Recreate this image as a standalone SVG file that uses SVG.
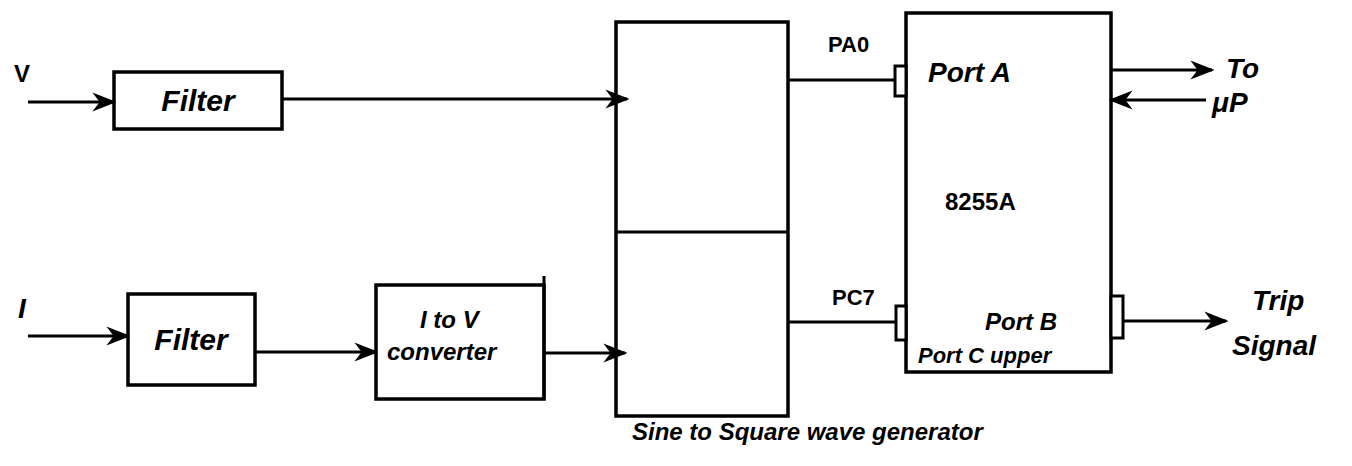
<svg xmlns="http://www.w3.org/2000/svg" width="1352" height="466" viewBox="0 0 1352 466">
<defs>
<style>
.box{fill:#fff;stroke:#000;stroke-width:3.5}
.ln{fill:none;stroke:#000;stroke-width:3}
.t{font-family:"Liberation Sans",Arial,sans-serif;font-weight:bold;fill:#000}
</style>
<marker id="ah" viewBox="0 0 10 10" refX="9" refY="5" markerWidth="8" markerHeight="8" orient="auto-start-reverse" markerUnits="strokeWidth">
<path d="M0,1 L10,5 L0,9 L3,5 Z" fill="#000"/>
</marker>
</defs>
<rect width="1352" height="466" fill="#fff"/>
<g id="filter1">
<rect class="box" x="114" y="72" width="168" height="57"/>
<text class="t" x="198" y="111" font-size="30" text-anchor="middle" font-style="italic">Filter</text>
</g>
<g id="filter2">
<rect class="box" x="128" y="294" width="127" height="91"/>
<text class="t" x="191" y="350" font-size="30" text-anchor="middle" font-style="italic">Filter</text>
</g>
<g id="itov">
<rect class="box" x="376" y="285" width="168" height="114"/>
<line class="ln" x1="544" y1="276" x2="544" y2="399"/>
<text class="t" x="420" y="328" font-size="24" font-style="italic">I to V</text>
<text class="t" x="387" y="360" font-size="24" font-style="italic">converter</text>
</g>
<g id="sinesquare">
<rect class="box" x="616" y="22" width="172" height="394"/>
<line class="ln" x1="616" y1="232" x2="788" y2="232"/>
<text class="t" x="632" y="440" font-size="24" font-style="italic">Sine to Square  wave  generator</text>
</g>
<g id="ppi8255">
<rect class="box" x="906" y="13" width="205" height="359"/>
<rect class="box" x="895" y="66" width="11" height="30" style="stroke-width:3"/>
<rect class="box" x="896" y="306" width="10" height="34" style="stroke-width:3"/>
<rect class="box" x="1111" y="296" width="12" height="42" style="stroke-width:3"/>
<text class="t" x="928" y="82" font-size="28" font-style="italic">Port A</text>
<text class="t" x="945" y="210" font-size="24">8255A</text>
<text class="t" x="985" y="330" font-size="24" font-style="italic">Port B</text>
<text class="t" x="918" y="363" font-size="22" font-style="italic">Port C upper</text>
</g>
<g id="labels">
<text class="t" x="14" y="82" font-size="24">V</text>
<text class="t" x="18" y="318" font-size="28" font-style="italic">I</text>
<text class="t" x="828" y="52" font-size="22">PA0</text>
<text class="t" x="832" y="305" font-size="22">PC7</text>
<text class="t" x="1226" y="78" font-size="28" font-style="italic">To</text>
<text class="t" x="1212" y="112" font-size="28" font-style="italic">μP</text>
<text class="t" x="1252" y="310" font-size="28" font-style="italic">Trip</text>
<text class="t" x="1232" y="355" font-size="28" font-style="italic">Signal</text>
</g>
<g id="connectors">
<line class="ln" x1="28" y1="102" x2="114" y2="102" marker-end="url(#ah)"/>
<line class="ln" x1="282" y1="99" x2="627" y2="99" marker-end="url(#ah)"/>
<line class="ln" x1="28" y1="336" x2="128" y2="336" marker-end="url(#ah)"/>
<line class="ln" x1="255" y1="352" x2="376" y2="352" marker-end="url(#ah)"/>
<line class="ln" x1="544" y1="353" x2="625" y2="353" marker-end="url(#ah)"/>
<line class="ln" x1="788" y1="80" x2="895" y2="80"/>
<line class="ln" x1="788" y1="322" x2="896" y2="322"/>
<line class="ln" x1="1111" y1="70" x2="1212" y2="70" marker-end="url(#ah)"/>
<line class="ln" x1="1206" y1="100" x2="1111" y2="100" marker-end="url(#ah)"/>
<line class="ln" x1="1123" y1="321" x2="1226" y2="321" marker-end="url(#ah)"/>
</g>
</svg>
